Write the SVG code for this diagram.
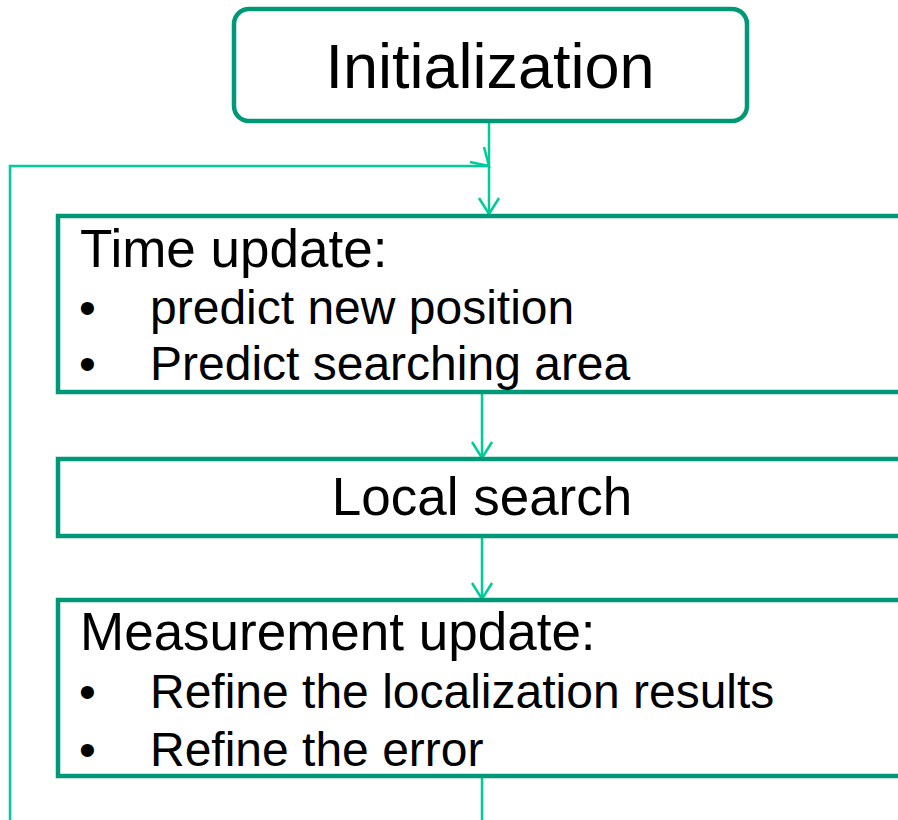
<svg xmlns="http://www.w3.org/2000/svg" width="898" height="820" viewBox="0 0 898 820">
<defs>
<style>
.box{fill:#fff;stroke:#009977;stroke-width:4.5}
.t{font-family:"Liberation Sans",Arial,sans-serif;fill:#000}
.h{font-size:53px}
.b{font-size:48px}
.c{fill:none;stroke:#00CC99;stroke-width:2.5}
</style>
<marker id="ah" viewBox="0 0 20 24" refX="18" refY="12" markerWidth="20" markerHeight="24" markerUnits="userSpaceOnUse" orient="auto">
<polyline points="2,2 18,12 2,22" fill="none" stroke="#00CC99" stroke-width="2.5"/>
</marker>
</defs>
<rect width="898" height="820" fill="#fff"/>
<g id="connectors">
<polyline class="c" points="10,820 10,166 489,166"/>
<polyline class="c" points="470,162 489,166 484,147"/>
<line class="c" x1="489" y1="121" x2="489" y2="214" marker-end="url(#ah)"/>
<line class="c" x1="482" y1="392" x2="482" y2="458" marker-end="url(#ah)"/>
<line class="c" x1="482" y1="536" x2="482" y2="599" marker-end="url(#ah)"/>
<line class="c" x1="482" y1="776" x2="482" y2="820"/>
</g>
<g id="init">
<rect class="box" x="234" y="9" width="513" height="112" rx="15"/>
<text class="t" x="490" y="88" font-size="63" text-anchor="middle">Initialization</text>
</g>
<g id="time-update">
<rect class="box" x="58" y="216" width="880" height="176"/>
<text class="t h" x="80" y="267">Time update:</text>
<text class="t b" x="79" y="324">•</text>
<text class="t b" x="150" y="324">predict new position</text>
<text class="t b" x="79" y="380">•</text>
<text class="t b" x="150" y="380">Predict searching area</text>
</g>
<g id="local-search">
<rect class="box" x="58" y="459" width="880" height="77"/>
<text class="t h" x="482" y="515" text-anchor="middle">Local search</text>
</g>
<g id="measurement-update">
<rect class="box" x="58" y="600" width="880" height="176"/>
<text class="t h" x="80" y="650">Measurement update:</text>
<text class="t b" x="79" y="708">•</text>
<text class="t b" x="150" y="708">Refine the localization results</text>
<text class="t b" x="79" y="766">•</text>
<text class="t b" x="150" y="766">Refine the error</text>
</g>
</svg>
